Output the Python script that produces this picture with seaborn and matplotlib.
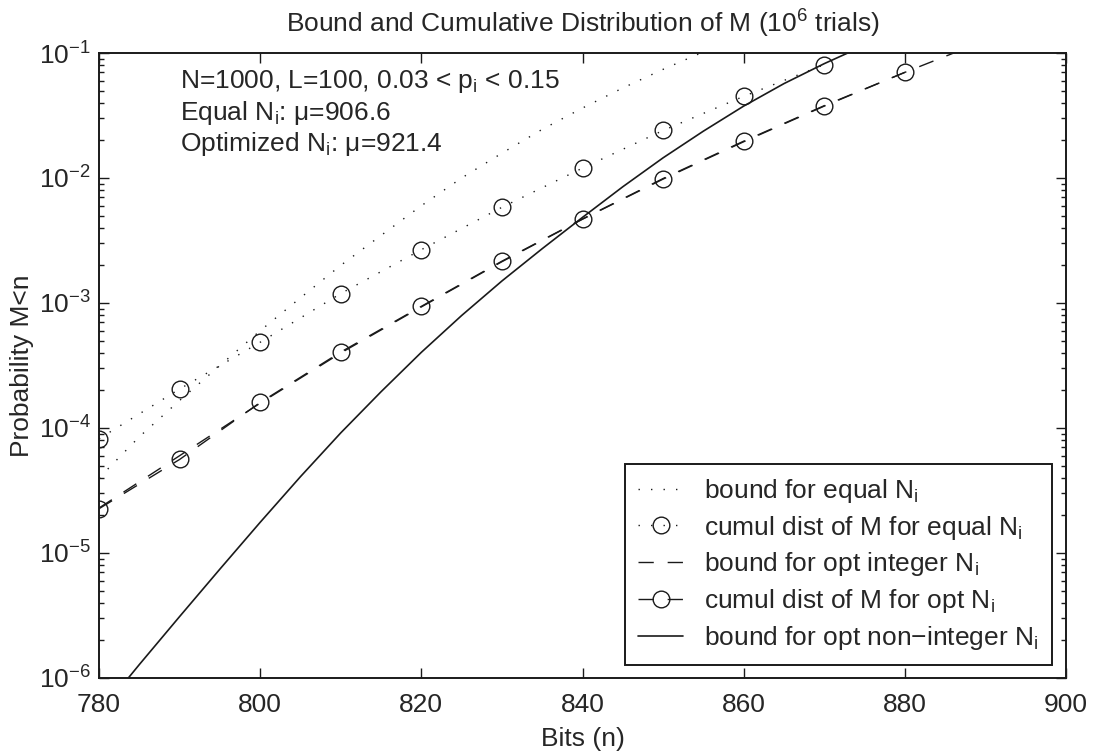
import matplotlib
matplotlib.use("Agg")
import matplotlib.pyplot as plt
import matplotlib.ticker as mticker
import numpy as np
import seaborn as sns

# Werte
# Schranke fuer gleiche N_i (gepunktet)
bits_bound_eq = [780, 785, 790, 795, 800, 805, 810, 815, 820, 825, 830, 835, 840, 845, 850, 855]
p_bound_eq = [3.98e-5, 8.5e-5, 1.66e-4, 3.16e-4, 6.0e-4, 1.10e-3, 2.0e-3, 3.47e-3,
              6.0e-3, 1.0e-2, 1.58e-2, 2.45e-2, 3.63e-2, 5.25e-2, 7.4e-2, 1.02e-1]

# empirische Verteilung von M (Kreise)
bits_cum_eq = [780, 790, 800, 810, 820, 830, 840, 850, 860, 870]
p_cum_eq = [8.2e-5, 2.05e-4, 4.85e-4, 1.19e-3, 2.67e-3, 5.83e-3, 1.20e-2, 2.40e-2, 4.5e-2, 8.07e-2]

bits_cum_opt = [780, 790, 800, 810, 820, 830, 840, 850, 860, 870, 880]
p_cum_opt = [2.26e-5, 5.6e-5, 1.6e-4, 4.05e-4, 9.4e-4, 2.16e-3, 4.7e-3, 9.9e-3, 1.97e-2, 3.79e-2, 7.0e-2]

# Schranke fuer optimierte ganzzahlige N_i (gestrichelt)
bits_bound_int = [780, 790, 800, 810, 820, 830, 840, 850, 860, 870, 880, 890]
p_bound_int = [2.29e-5, 6.0e-5, 1.58e-4, 3.98e-4, 9.3e-4, 2.14e-3, 4.68e-3, 9.8e-3,
               1.95e-2, 3.76e-2, 7.0e-2, 1.26e-1]

# Schranke fuer optimierte nicht-ganzzahlige N_i (durchgezogen)
bits_bound_real = [783, 785, 790, 795, 800, 805, 810, 815, 820, 825, 830, 835, 840, 845,
                   850, 855, 860, 865, 870, 875]
p_bound_real = [8.91e-7, 1.28e-6, 3.10e-6, 7.43e-6, 1.76e-5, 4.08e-5, 9.14e-5, 1.95e-4, 4.03e-4,
                7.94e-4, 1.50e-3, 2.72e-3, 4.84e-3, 8.51e-3, 1.45e-2, 2.37e-2, 3.76e-2, 5.69e-2,
                8.22e-2, 1.15e-1]

x_ticks = [780, 800, 820, 840, 860, 880, 900]

sns.set_theme(style="ticks")
plt.rcParams['font.family'] = ['Liberation Sans', 'DejaVu Sans']
plt.rcParams['mathtext.fontset'] = 'custom'
plt.rcParams['mathtext.rm'] = 'Liberation Sans'
plt.rcParams['mathtext.it'] = 'Liberation Sans:italic'
plt.rcParams['mathtext.default'] = 'regular'
plt.rcParams['font.size'] = 19

fig = plt.figure(figsize=(10.94, 7.55), dpi=100)
ax = fig.add_axes([0.0905, 0.102, 0.8839, 0.8278])

dot = (0, (1, 8))
dash = (0, (11, 10))
circ = dict(marker='o', markersize=12, markerfacecolor='none', markeredgecolor='k', markeredgewidth=1.0)

sns.lineplot(x=bits_bound_eq, y=p_bound_eq, ax=ax, color='k', lw=1.0, linestyle=dot,
             errorbar=None, label='bound for equal N$_i$')
sns.lineplot(x=bits_cum_eq, y=p_cum_eq, ax=ax, color='k', lw=1.0, linestyle=dot,
             errorbar=None, label='cumul dist of M for equal N$_i$', **circ)
sns.lineplot(x=bits_bound_int, y=p_bound_int, ax=ax, color='k', lw=1.0, linestyle=dash,
             errorbar=None, label='bound for opt integer N$_i$')
sns.lineplot(x=bits_cum_opt, y=p_cum_opt, ax=ax, color='k', lw=1.0, linestyle=dash,
             errorbar=None, label='cumul dist of M for opt N$_i$', **circ)
sns.lineplot(x=bits_bound_real, y=p_bound_real, ax=ax, color='k', lw=1.2, linestyle='-',
             errorbar=None, label='bound for opt non\u2212integer N$_i$')

ax.set_yscale('log')
ax.set_xlim(780, 900)
ax.set_ylim(1e-6, 1e-1)
ax.set_xticks(x_ticks)
ax.yaxis.set_major_locator(mticker.LogLocator(base=10, numticks=10))
ax.yaxis.set_minor_locator(mticker.LogLocator(base=10, subs=np.arange(2, 10), numticks=20))
ax.yaxis.set_minor_formatter(mticker.NullFormatter())

for s in ax.spines.values():
    s.set_linewidth(1.4)
    s.set_color('k')
ax.tick_params(which='both', direction='in', top=True, right=True, color='k', labelsize=19)
ax.tick_params(which='major', length=7, width=1.0)
ax.tick_params(which='minor', length=3.6, width=1.0)
ax.tick_params(axis='x', pad=11)
ax.tick_params(axis='y', pad=6)

ax.set_title('Bound and Cumulative Distribution of M (10$^6$ trials)', fontsize=19, pad=15)
ax.set_xlabel('Bits (n)', fontsize=19, labelpad=7)
ax.set_ylabel('Probability M<n', fontsize=19, labelpad=3)

ax.text(790, 0.944, 'N=1000, L=100, 0.03 < p$_i$ < 0.15', transform=ax.get_xaxis_transform(),
        fontsize=19, va='baseline', ha='left')
ax.text(790, 0.8933, 'Equal N$_i$: \u03bc=906.6', transform=ax.get_xaxis_transform(),
        fontsize=19, va='baseline', ha='left')
ax.text(790, 0.8437, 'Optimized N$_i$: \u03bc=921.4', transform=ax.get_xaxis_transform(),
        fontsize=19, va='baseline', ha='left')

leg = ax.legend(loc='lower right', bbox_to_anchor=(0.9855, 0.0208), borderaxespad=0,
                frameon=True, fancybox=False, edgecolor='k', framealpha=1,
                handlelength=1.7, handletextpad=0.8, labelspacing=0.33, borderpad=0.5,
                fontsize=19)
leg.get_frame().set_linewidth(1.4)

fig.savefig('out.png', dpi=100, facecolor='white')
